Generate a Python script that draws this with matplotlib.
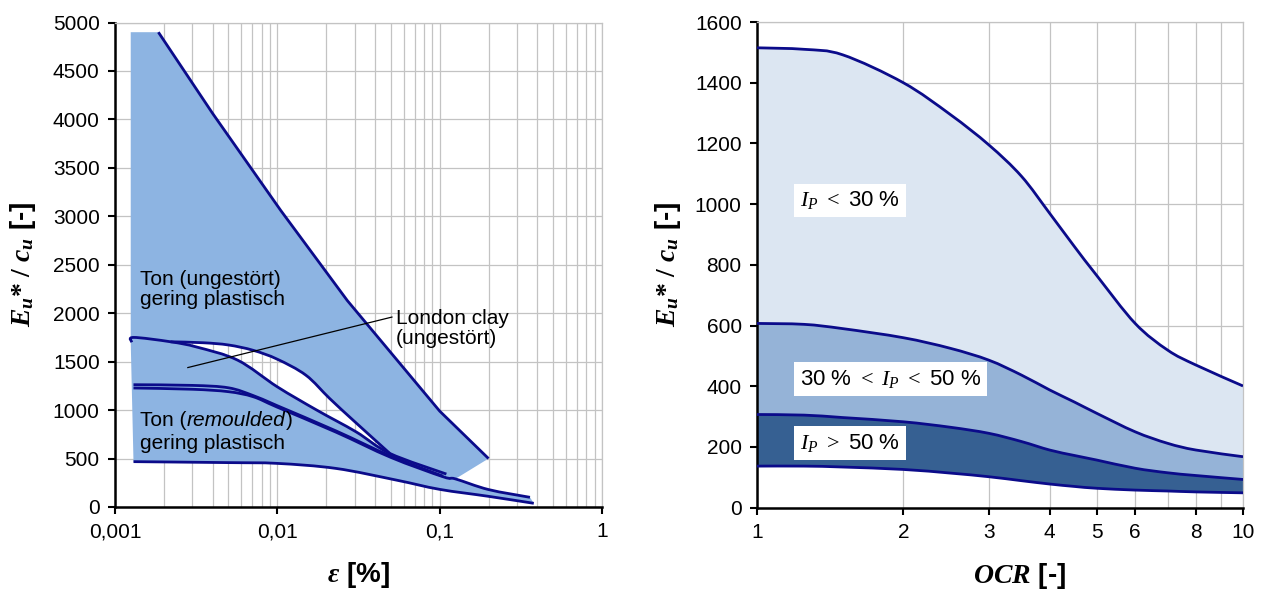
import numpy as np
import matplotlib
matplotlib.use("Agg")
import matplotlib.pyplot as plt
from matplotlib.path import Path
from matplotlib.patches import PathPatch
from matplotlib.ticker import FixedLocator, FixedFormatter, NullFormatter, LogLocator
from matplotlib.offsetbox import TextArea, HPacker, VPacker, AnnotationBbox

plt.rcParams.update({
    "font.family": ["Liberation Sans", "DejaVu Sans"],
    "mathtext.fontset": "custom",
    "mathtext.rm": "Liberation Serif",
    "mathtext.it": "Liberation Serif:italic",
    "mathtext.bf": "Liberation Serif:bold",
    "mathtext.bfit": "Liberation Serif:italic:bold",
})

# ---------------- left panel: E_u*/c_u versus strain ----------------
eps_min = 0.00125
# upper bound of the undisturbed clay band
eps_outer = [0.00185, 0.004, 0.0105, 0.027, 0.1, 0.2]
E_outer = [4900, 4060, 3060, 2130, 990, 500]
# London clay (lower branch)
eps_A = [0.00127, 0.0013, 0.0022, 0.0032, 0.0057, 0.01, 0.0175, 0.0306, 0.0493, 0.11]
E_A = [1700, 1750, 1705, 1650, 1515, 1240, 1000, 775, 553, 340]
# London clay (upper branch)
eps_B = [0.0022, 0.0035, 0.005, 0.0071, 0.01, 0.015, 0.021, 0.03, 0.0493]
E_B = [1705, 1695, 1672, 1617, 1525, 1360, 1120, 880, 553]
# remoulded clay, upper curves
eps_C = [0.0013, 0.003, 0.005, 0.0071, 0.01, 0.023, 0.05, 0.105]
E_C = [1262, 1255, 1230, 1150, 1045, 785, 525, 318]
eps_D = [0.0013, 0.003, 0.005, 0.0071, 0.01, 0.023, 0.05, 0.105, 0.125, 0.2, 0.36]
E_D = [1228, 1215, 1190, 1138, 1030, 772, 512, 312, 290, 180, 100]
# remoulded clay, lower bound
eps_F = [0.0013, 0.005, 0.01, 0.023, 0.054, 0.1, 0.2, 0.38]
E_F = [468, 458, 450, 398, 278, 182, 110, 38]

eps_ticks = [0.001, 0.01, 0.1, 1]
eps_ticklabels = ["0,001", "0,01", "0,1", "1"]
E_ticks_left = list(range(0, 5001, 500))

# ---------------- right panel: E_u*/c_u versus OCR ----------------
ocr = [1, 1.25, 1.5, 2, 2.5, 3, 3.5, 4, 4.5, 5, 6, 7, 8, 10]
E_ip_low_top = [1515, 1510, 1492, 1400, 1295, 1195, 1092, 970, 860, 765, 607, 519, 470, 401]
E_ip_mid_top = [607, 604, 590, 560, 525, 486, 437, 388, 348, 311, 250, 212, 190, 168]
E_ip_high_top = [307, 305, 297, 283, 265, 245, 218, 190, 172, 157, 130, 115, 106, 93]
E_ip_high_bot = [137, 137, 134, 126, 114, 102, 89, 78, 70, 64, 58, 55, 52, 49]

ocr_ticks = [1, 2, 3, 4, 5, 6, 8, 10]
ocr_minor = [7, 9]
E_ticks_right = list(range(0, 1601, 200))

line_c = "#0B0B8A"
grid_c = "#C3C3C3"
fill_left = "#8DB4E2"
fill_light = "#DCE6F2"
fill_mid = "#95B3D7"
fill_dark = "#366092"


def smooth_segments(xs, ys, y_span):
    """Smoothed (Catmull-Rom style) Bezier segments through the points on a
    log-x axis; returns vertices and codes for a matplotlib Path."""
    u = np.log10(np.asarray(xs, float))
    v = np.asarray(ys, float) / y_span  # normalise so both axes weigh alike
    p = np.column_stack([u, v])
    n = len(p)
    verts = [p[0]]
    codes = [Path.MOVETO]
    for i in range(n - 1):
        p0 = p[max(i - 1, 0)]
        p1 = p[i]
        p2 = p[i + 1]
        p3 = p[min(i + 2, n - 1)]
        c1 = p1 + (p2 - p0) / 6.0
        c2 = p2 - (p3 - p1) / 6.0
        verts += [c1, c2, p2]
        codes += [Path.CURVE4] * 3
    verts = np.array(verts)
    verts = np.column_stack([10 ** verts[:, 0], verts[:, 1] * y_span])
    return verts, codes


def smooth_line(ax, xs, ys, y_span, **kw):
    verts, codes = smooth_segments(xs, ys, y_span)
    ax.add_patch(PathPatch(Path(verts, codes), fill=False, transform=ax.transData, **kw))


def ring(parts):
    """Join several (verts, codes) pieces into one closed ring."""
    verts, codes = [], []
    for k, (vv, cc) in enumerate(parts):
        cc = list(cc)
        if k > 0:
            cc[0] = Path.LINETO
        verts += list(map(tuple, vv))
        codes += cc
    verts.append(verts[0])
    codes.append(Path.CLOSEPOLY)
    return verts, codes


def reverse(vc):
    vv, cc = vc
    vv = np.asarray(vv)[::-1]
    cc = [Path.MOVETO] + list(cc[1:])
    return vv, cc


def poly(xs, ys):
    vv = np.column_stack([xs, ys])
    return vv, [Path.MOVETO] + [Path.LINETO] * (len(xs) - 1)


fig = plt.figure(figsize=(12.66, 5.89), dpi=100)
W, H = 1266, 589
ax1 = fig.add_axes([115 / W, 1 - 507 / H, (602 - 115) / W, (507 - 22.5) / H])
ax2 = fig.add_axes([757 / W, 1 - 507.7 / H, (1243 - 757) / W, (507.7 - 22) / H])


def style_axes(ax):
    ax.set_axisbelow(True)
    for s in ("top", "right"):
        ax.spines[s].set_color(grid_c)
        ax.spines[s].set_linewidth(0.9)
    for s in ("left", "bottom"):
        ax.spines[s].set_color("black")
        ax.spines[s].set_linewidth(1.8)
    ax.tick_params(which="major", direction="out", length=5, width=1.5,
                   labelsize=15, pad=6, colors="black")
    ax.tick_params(which="minor", length=0)
    ax.grid(True, which="both", color=grid_c, linewidth=0.9)


lw = 2.0
ylabel = r"$\mathbfit{E_u}\mathbf{*}\ \mathbf{/}\ \mathbfit{c_u}$ [-]"

# ---- left panel ----
ax1.set_xscale("log")
ax1.set_xlim(0.001, 1)
ax1.set_ylim(0, 5000)
ax1.xaxis.set_major_locator(FixedLocator(eps_ticks))
ax1.xaxis.set_major_formatter(FixedFormatter(eps_ticklabels))
ax1.xaxis.set_minor_locator(LogLocator(base=10, subs=np.arange(2, 10), numticks=20))
ax1.xaxis.set_minor_formatter(NullFormatter())
ax1.set_yticks(E_ticks_left)
style_axes(ax1)

SPAN_L = 5000 / 3.0
i_d = eps_D.index(0.125)
outer_verts, outer_codes = ring([
    poly([eps_min] + eps_outer, [E_outer[0]] + E_outer),
    smooth_segments(eps_D[i_d:], E_D[i_d:], SPAN_L),
    reverse(smooth_segments(eps_F, E_F, SPAN_L)),
    poly([eps_min], [E_A[0]]),
])
i_a0 = eps_A.index(eps_B[0])
i_a1 = eps_A.index(eps_B[-1]) + 1
hole_verts, hole_codes = ring([
    reverse(smooth_segments(eps_A[i_a0:i_a1], E_A[i_a0:i_a1], SPAN_L)),
    smooth_segments(eps_B, E_B, SPAN_L),
])
# the lens runs the other way round, so it stays open
hole_verts = hole_verts[:-1][::-1] + [hole_verts[-2]]
hole_codes = [Path.MOVETO] + [Path.LINETO] * (len(hole_verts) - 2) + [Path.CLOSEPOLY]
ax1.add_patch(PathPatch(Path(outer_verts + hole_verts, outer_codes + hole_codes),
                        facecolor=fill_left, edgecolor="none",
                        transform=ax1.transData, zorder=1))

ax1.plot(eps_outer, E_outer, color=line_c, lw=lw, zorder=3, solid_capstyle="butt")
for xs, ys in ((eps_A, E_A), (eps_B, E_B), (eps_C, E_C), (eps_D, E_D), (eps_F, E_F)):
    smooth_line(ax1, xs, ys, SPAN_L, edgecolor=line_c, lw=lw, zorder=3, capstyle="butt")

eps_lab = 0.00143
ax1.text(eps_lab, 2245, "Ton (ungestört)\ngering plastisch", fontsize=15,
         ha="left", va="center", linespacing=1.05, zorder=4)
tp = dict(fontsize=15, color="black")
row1 = HPacker(children=[TextArea("Ton (", textprops=tp),
                         TextArea("remoulded", textprops=dict(tp, style="italic")),
                         TextArea(")", textprops=tp)],
               pad=0, sep=0, align="baseline")
row2 = TextArea("gering plastisch", textprops=tp)
box = VPacker(children=[row1, row2], pad=0, sep=3, align="left")
ax1.add_artist(AnnotationBbox(box, (eps_lab, 772), xycoords="data",
                              box_alignment=(0, 0.5), frameon=False, pad=0, zorder=4))

ax1.text(0.0537, 1840, "London clay\n(ungestört)", fontsize=15, ha="left",
         va="center", linespacing=1.05, zorder=4)
ax1.plot([0.00281, 0.0508], [1439, 1960], color="black", lw=0.9, zorder=4)

ax1.set_xlabel(r"$\mathbfit{ε}$ [%]", fontsize=20, fontweight="bold")
ax1.xaxis.set_label_coords(0.5, -0.11)
ax1.set_ylabel(ylabel, fontsize=20, fontweight="bold")
ax1.yaxis.set_label_coords(-0.158, 0.5)

# ---- right panel ----
ax2.set_xscale("log")
ax2.set_xlim(1, 10)
ax2.set_ylim(0, 1600)
ax2.xaxis.set_major_locator(FixedLocator(ocr_ticks))
ax2.xaxis.set_major_formatter(FixedFormatter([str(t) for t in ocr_ticks]))
ax2.xaxis.set_minor_locator(FixedLocator(ocr_minor))
ax2.xaxis.set_minor_formatter(NullFormatter())
ax2.set_yticks(E_ticks_right)
style_axes(ax2)

SPAN_R = 1600 / 1.0
bands = ((E_ip_mid_top, E_ip_low_top, fill_light),
         (E_ip_high_top, E_ip_mid_top, fill_mid),
         (E_ip_high_bot, E_ip_high_top, fill_dark))
for lower, upper, col in bands:
    vv, cc = ring([smooth_segments(ocr, upper, SPAN_R),
                   reverse(smooth_segments(ocr, lower, SPAN_R))])
    ax2.add_patch(PathPatch(Path(vv, cc), facecolor=col, edgecolor="none",
                            transform=ax2.transData, zorder=1))
for ys in (E_ip_low_top, E_ip_mid_top, E_ip_high_top, E_ip_high_bot):
    smooth_line(ax2, ocr, ys, SPAN_R, edgecolor=line_c, lw=lw, zorder=3)

bb = dict(facecolor="white", edgecolor="none", pad=4)
ax2.text(1.226, 1013, r"$I_P\ <$ 30 %", fontsize=16, ha="left", va="center", bbox=bb, zorder=4)
ax2.text(1.226, 424, r"30 % $<\ I_P\ <$ 50 %", fontsize=16, ha="left", va="center", bbox=bb, zorder=4)
ax2.text(1.226, 213, r"$I_P\ >$ 50 %", fontsize=16, ha="left", va="center", bbox=bb, zorder=4)

ax2.set_xlabel(r"$\mathbfit{OCR}$ [-]", fontsize=20, fontweight="bold")
ax2.xaxis.set_label_coords(0.54, -0.11)
ax2.set_ylabel(ylabel, fontsize=20, fontweight="bold")
ax2.yaxis.set_label_coords(-0.152, 0.5)

fig.savefig("out.png", dpi=100)
